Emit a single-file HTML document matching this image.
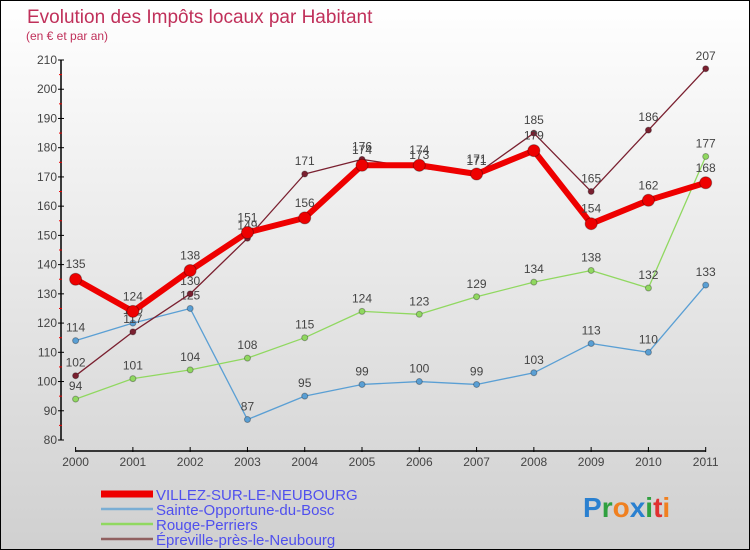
<!DOCTYPE html>
<html><head><meta charset="utf-8"><style>
body{margin:0}
#c{width:748px;height:548px;border:1px solid #000;background:linear-gradient(#fff,#d0d0d0);position:relative;font-family:"Liberation Sans",sans-serif;overflow:hidden}
</style></head><body>
<div id="c">
<svg id="s" width="748" height="548"></svg>
</div>
<script>
const years=["2000","2001","2002","2003","2004","2005","2006","2007","2008","2009","2010","2011"];
const villez=[135,124,138,151,156,174,174,171,179,154,162,168];
const sainte=[114,120,125,87,95,99,100,99,103,113,110,133];
const rouge=[94,101,104,108,115,124,123,129,134,138,132,177];
const epreville=[102,117,130,149,171,176,173,171,185,165,186,207];
const yTicks=[80,90,100,110,120,130,140,150,160,170,180,190,200,210];
const NS="http://www.w3.org/2000/svg";
const s=document.getElementById('s');
function X(i){return 74.6+i*(704.7-74.6)/11;}
function Y(v){return 439-(v-80)*(380/130);}
function mk(t,a,p){const e=document.createElementNS(NS,t);for(const k in a)e.setAttribute(k,a[k]);(p||s).appendChild(e);return e;}
function tx(x,y,str,a){const e=mk('text',Object.assign({x:x,y:y,'font-size':12,fill:'#444'},a||{}));e.textContent=str;return e;}
let t=tx(26,22,"Evolution des Impôts locaux par Habitant",{'font-size':19,fill:'#c0305a'});

t=tx(25,39,"(en € et par an)",{'font-size':12,fill:'#c0305a'});

// axes
let ax=mk('line',{x1:60,y1:Y(210),x2:60,y2:Y(80),stroke:'#000','stroke-width':1.5});

yTicks.forEach((v,i)=>{mk('line',{x1:57,x2:63,y1:Y(v),y2:Y(v),stroke:'#000'});
 if(i<yTicks.length-1)mk('line',{x1:58,x2:61,y1:Y(v+5),y2:Y(v+5),stroke:'#e00'});
 const l=tx(56,Y(v)+4,String(v),{'text-anchor':'end'});});
ax=mk('line',{x1:X(0),y1:450,x2:X(11),y2:450,stroke:'#000','stroke-width':1.5});

years.forEach((y,i)=>{mk('line',{x1:X(i),x2:X(i),y1:446,y2:451,stroke:'#000'});
 const l=tx(X(i),465,y,{'text-anchor':'middle'});});
function series(d,col,w,r,name,labelDy){
 const g=mk('g',{});
 mk('polyline',{points:d.map((v,i)=>X(i)+','+Y(v)).join(' '),fill:'none',stroke:col,'stroke-width':w,'stroke-linejoin':'round'},g);
 d.forEach((v,i)=>{const c=mk('circle',{cx:X(i),cy:Y(v),r:r,fill:col,stroke:'rgba(0,0,0,0.3)'},g);
  
  tx(X(i),Y(v)+labelDy,String(v),{'text-anchor':'middle',fill:'#444','font-size':12},g);});
}
series(sainte,'#5a9fd4',1.3,3,'series-sainte-opportune',-9);
series(rouge,'#90d860',1.3,3,'series-rouge-perriers',-9);
series(epreville,'#7a2030',1.3,3,'series-epreville',-9);
series(villez,'#ee0000',6,6,'series-villez',-11);
// legend
const leg=[["VILLEZ-SUR-LE-NEUBOURG",'#ee0000',7],["Sainte-Opportune-du-Bosc",'#7aaed4',2.5],["Rouge-Perriers",'#90d860',2.5],["Épreville-près-le-Neubourg",'#906060',2.5]];
leg.forEach((l,i)=>{const y=493+i*15;const g=mk('g',{});
 mk('line',{x1:100,x2:152,y1:y,y2:y,stroke:l[1],'stroke-width':l[2]},g);
 tx(155,y+6,l[0],{fill:'#5050ee','font-size':15},g);});
const p=mk('text',{x:582,y:516,'font-size':28,'font-weight':'bold'});

[["P","#2a80d0"],["r","#30a040"],["o","#f08020"],["x","#2a80d0"],["i","#30a040"],["t","#e03030"],["i","#f08020"]].forEach(c=>{const ts=mk('tspan',{fill:c[1]},p);ts.textContent=c[0];});
</script>
</body></html>
